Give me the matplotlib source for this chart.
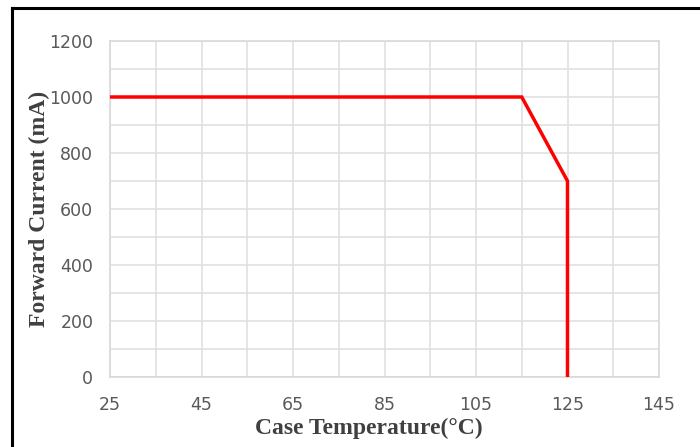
import matplotlib
matplotlib.use("Agg")
import matplotlib.pyplot as plt
from matplotlib.lines import Line2D

# derating curve
temp = [25, 115, 125, 125]
current = [1000, 1000, 700, 0]

x_ticks = [25, 45, 65, 85, 105, 125, 145]
y_ticks = [0, 200, 400, 600, 800, 1000, 1200]

fig = plt.figure(figsize=(7, 4.47), dpi=100)
ax = fig.add_axes([110 / 700, 1 - 377 / 447, 549 / 700, 336 / 447])

ax.plot(temp, current, color="#ff0000", lw=2.5, solid_joinstyle="miter", zorder=3)

ax.set_xlim(25, 145)
ax.set_ylim(0, 1200)
ax.set_xticks(x_ticks)
ax.set_yticks(y_ticks)
ax.set_xticks([t + 10 for t in x_ticks[:-1]], minor=True)
ax.set_yticks([t + 100 for t in y_ticks[:-1]], minor=True)
ax.grid(which="both", color="#e0e0e0", lw=1.2)
ax.set_axisbelow(True)
for s in ax.spines.values():
    s.set_color("#d9d9d9")
    s.set_linewidth(1.2)
ax.tick_params(which="both", length=0, colors="#595959", labelsize=12.5)
ax.tick_params(axis="x", pad=14)
ax.tick_params(axis="y", pad=12)

ax.set_xlabel("Case Temperature(°C)", family="Liberation Serif", fontweight="bold",
              fontsize=17, color="#404040")
ax.set_ylabel("Forward Current (mA)", family="Liberation Serif", fontweight="bold",
              fontsize=17, color="#404040")
ax.xaxis.set_label_coords(0.472, -0.122)
ax.yaxis.set_label_coords(-0.110, 0.5)

# black frame around the chart (cut off on right and bottom)
x0 = 12 / 700
y0 = 1 - 8 / 447
fig.add_artist(Line2D([x0, 1.02], [y0, y0], color="black", lw=2.2, transform=fig.transFigure))
fig.add_artist(Line2D([x0, x0], [-0.02, y0], color="black", lw=2.2, transform=fig.transFigure))

fig.savefig("out.png", dpi=100)
